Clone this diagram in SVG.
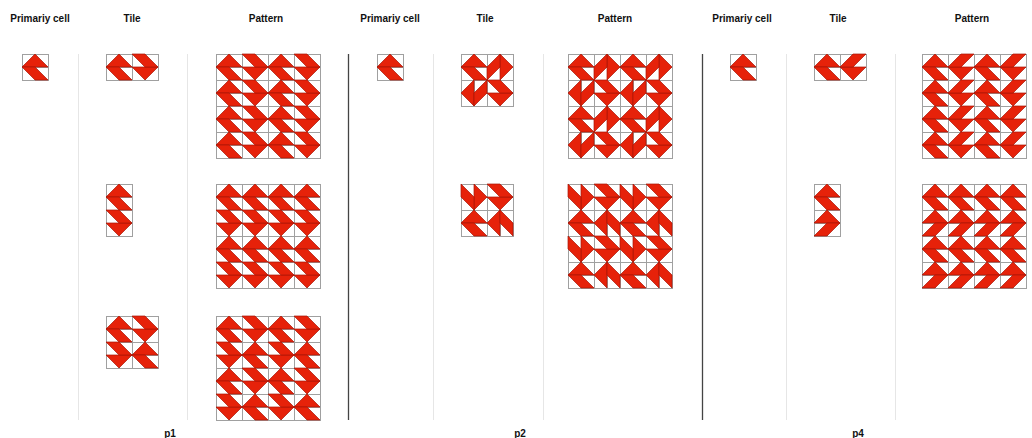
<svg xmlns="http://www.w3.org/2000/svg" width="1032" height="438" viewBox="0 0 1032 438">
<style>
.t{font-family:"Liberation Sans",Arial,sans-serif;font-weight:bold;font-size:10px;fill:#111;text-anchor:middle}
.sep{stroke:#e6e6e6;stroke-width:1}
.div{stroke:#444;stroke-width:1.3}
.r{fill:#e6220a;stroke:#a81606;stroke-width:0.7;stroke-linejoin:round}
.gr{stroke:#a0a0a0;stroke-width:1}
</style>
<defs>
<g id="c0" class="r"><polygon points="0,13 13,0 26,13"/><polygon points="0,13 13,13 26,26 13,26"/></g>
<use id="c2" href="#c0" transform="rotate(180 13 13)"/>
<use id="cv" href="#c0" transform="matrix(1,0,0,-1,0,26)"/>
<use id="ch" href="#c0" transform="matrix(-1,0,0,1,26,0)"/>
<use id="c1" href="#c0" transform="matrix(0,1,-1,0,26,0)"/>
<use id="c3" href="#c0" transform="matrix(0,-1,1,0,0,26)"/>
<use id="ct" href="#c0" transform="matrix(0,1,1,0,0,0)"/>
<use id="ca" href="#c0" transform="matrix(0,-1,-1,0,26,26)"/>
<pattern id="gp" width="13" height="13" patternUnits="userSpaceOnUse">
<rect width="13" height="13" fill="#fff"/>
<path d="M0.5,0V13M0,0.5H13" class="gr" fill="none"/>
</pattern>
<rect id="g11" x="0.5" y="0.5" width="26" height="26" fill="url(#gp)" class="gr"/>
<rect id="g21" x="0.5" y="0.5" width="52" height="26" fill="url(#gp)" class="gr"/>
<rect id="g12" x="0.5" y="0.5" width="26" height="52" fill="url(#gp)" class="gr"/>
<rect id="g22" x="0.5" y="0.5" width="52" height="52" fill="url(#gp)" class="gr"/>
<rect id="g44" x="0.5" y="0.5" width="104" height="104" fill="url(#gp)" class="gr"/>
<g id="p1a"><use href="#c0"/><use href="#c2" x="26"/><use href="#c0" x="52"/><use href="#c2" x="78"/></g>
<g id="p1b"><use href="#c2"/><use href="#c0" x="26"/><use href="#c2" x="52"/><use href="#c0" x="78"/></g>
<g id="p1c"><use href="#c0"/><use href="#c0" x="26"/><use href="#c0" x="52"/><use href="#c0" x="78"/></g>
<g id="p1d"><use href="#c2"/><use href="#c2" x="26"/><use href="#c2" x="52"/><use href="#c2" x="78"/></g>
<g id="p2t1"><use href="#c0"/><use href="#c1" x="26"/><use href="#c3" y="26"/><use href="#c2" x="26" y="26"/></g>
<g id="p2t2"><use href="#ca"/><use href="#c2" x="26"/><use href="#c0" y="26"/><use href="#ct" x="26" y="26"/></g>
<g id="p4a"><use href="#c0"/><use href="#cv" x="26"/><use href="#c0" x="52"/><use href="#cv" x="78"/></g>
<g id="p4c"><use href="#ch"/><use href="#ch" x="26"/><use href="#ch" x="52"/><use href="#ch" x="78"/></g>
</defs>

<g id="headers">
<text class="t" x="40" y="22">Primariy cell</text>
<text class="t" x="132" y="22">Tile</text>
<text class="t" x="266" y="22">Pattern</text>
<text class="t" x="390" y="22">Primariy cell</text>
<text class="t" x="485" y="22">Tile</text>
<text class="t" x="615" y="22">Pattern</text>
<text class="t" x="742" y="22">Primariy cell</text>
<text class="t" x="838" y="22">Tile</text>
<text class="t" x="972" y="22">Pattern</text>
<text class="t" x="170" y="437">p1</text>
<text class="t" x="520" y="437">p2</text>
<text class="t" x="858" y="437">p4</text>
</g>

<g id="separators">
<line class="sep" x1="78.5" y1="54" x2="78.5" y2="420"/>
<line class="sep" x1="187.5" y1="54" x2="187.5" y2="420"/>
<line class="sep" x1="433.5" y1="54" x2="433.5" y2="420"/>
<line class="sep" x1="543.5" y1="54" x2="543.5" y2="420"/>
<line class="sep" x1="786.5" y1="54" x2="786.5" y2="420"/>
<line class="sep" x1="895.5" y1="54" x2="895.5" y2="420"/>
<line class="div" x1="348.5" y1="54" x2="348.5" y2="420"/>
<line class="div" x1="702.5" y1="54" x2="702.5" y2="420"/>
</g>

<g id="p1-primary" transform="translate(22,54)"><use href="#g11"/><use href="#c0"/></g>
<g id="p1-tile1" transform="translate(106,54)"><use href="#g21"/><use href="#c0"/><use href="#c2" x="26"/></g>
<g id="p1-tile2" transform="translate(106,184)"><use href="#g12"/><use href="#c0"/><use href="#c2" y="26"/></g>
<g id="p1-tile3" transform="translate(106,316)"><use href="#g22"/><use href="#c0"/><use href="#c2" x="26"/><use href="#c2" y="26"/><use href="#c0" x="26" y="26"/></g>
<g id="p1-pattern1" transform="translate(216,54)"><use href="#g44"/><use href="#p1a"/><use href="#p1a" y="26"/><use href="#p1a" y="52"/><use href="#p1a" y="78"/></g>
<g id="p1-pattern2" transform="translate(216,184)"><use href="#g44"/><use href="#p1c"/><use href="#p1d" y="26"/><use href="#p1c" y="52"/><use href="#p1d" y="78"/></g>
<g id="p1-pattern3" transform="translate(216,316)"><use href="#g44"/><use href="#p1a"/><use href="#p1b" y="26"/><use href="#p1a" y="52"/><use href="#p1b" y="78"/></g>

<g id="p2-primary" transform="translate(377,54)"><use href="#g11"/><use href="#c0"/></g>
<g id="p2-tile1" transform="translate(461,54)"><use href="#g22"/><use href="#p2t1"/></g>
<g id="p2-tile2" transform="translate(461,184)"><use href="#g22"/><use href="#p2t2"/></g>
<g id="p2-pattern1" transform="translate(568,54)"><use href="#g44"/><use href="#p2t1"/><use href="#p2t1" x="52"/><use href="#p2t1" y="52"/><use href="#p2t1" x="52" y="52"/></g>
<g id="p2-pattern2" transform="translate(568,184)"><use href="#g44"/><use href="#p2t2"/><use href="#p2t2" x="52"/><use href="#p2t2" y="52"/><use href="#p2t2" x="52" y="52"/></g>

<g id="p4-primary" transform="translate(730,54)"><use href="#g11"/><use href="#c0"/></g>
<g id="p4-tile1" transform="translate(814,54)"><use href="#g21"/><use href="#c0"/><use href="#cv" x="26"/></g>
<g id="p4-tile2" transform="translate(814,184)"><use href="#g12"/><use href="#c0"/><use href="#ch" y="26"/></g>
<g id="p4-pattern1" transform="translate(922,54)"><use href="#g44"/><use href="#p4a"/><use href="#p4a" y="26"/><use href="#p4a" y="52"/><use href="#p4a" y="78"/></g>
<g id="p4-pattern2" transform="translate(922,184)"><use href="#g44"/><use href="#p1c"/><use href="#p4c" y="26"/><use href="#p1c" y="52"/><use href="#p4c" y="78"/></g>
</svg>
